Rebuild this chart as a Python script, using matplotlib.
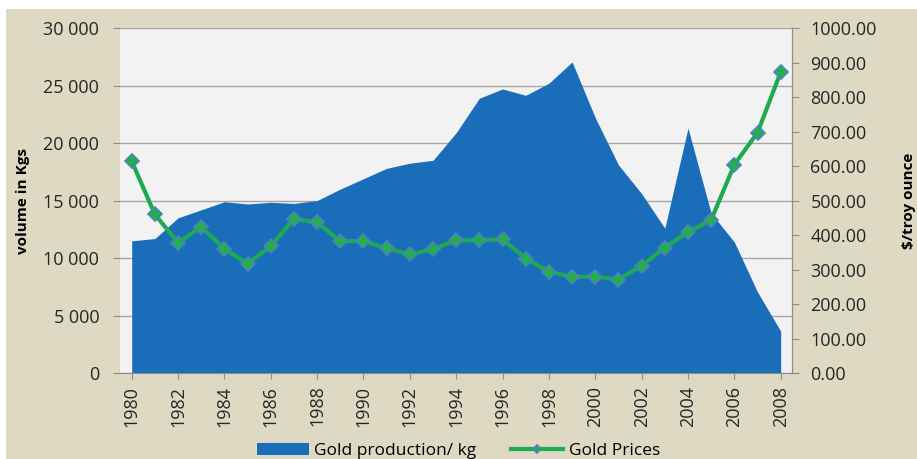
import matplotlib
matplotlib.use("Agg")
import matplotlib.pyplot as plt
from matplotlib.patches import Rectangle
from matplotlib.ticker import FuncFormatter, MultipleLocator
import numpy as np

plt.rcParams['font.family'] = ['Open Sans', 'DejaVu Sans']

years = list(range(1980, 2009))
# gold production, kg
production = [11500, 11700, 13500, 14200, 14900, 14700, 14850, 14750, 15000, 16000,
              16900, 17800, 18250, 18500, 20900, 23900, 24700, 24150, 25200, 27050,
              22200, 18100, 15600, 12600, 21300, 13900, 11400, 7050, 3650]
# gold price, $/troy ounce
price = [614, 460, 378, 424, 360, 317, 368, 447, 437, 382,
         383, 362, 344, 359, 385, 385, 388, 332, 294, 279,
         280, 271, 311, 364, 409, 444, 604, 697, 872]

beige = '#DDD9C3'
fig = plt.figure(figsize=(9.17, 4.59), dpi=100, facecolor='white')
fig.patches.append(Rectangle((6 / 917, 0), 1, 1 - 9 / 459, transform=fig.transFigure,
                             facecolor=beige, edgecolor='none', zorder=-10))

ax = fig.add_axes([0.131, 0.187, 0.733, 0.752])
ax.set_facecolor('#F2F2F2')
x = np.arange(len(years))
ax.fill_between(x, production, 0, color='#1A6DB9', lw=0, label='Gold production/ kg', zorder=2)
ax.set_xlim(-0.5, len(years) - 0.5)
ax.set_ylim(0, 30000)
ax.yaxis.set_major_locator(MultipleLocator(5000))
ax.yaxis.set_major_formatter(FuncFormatter(lambda v, p: f"{int(v):,}".replace(",", " ")))
ax.grid(axis='y', color='#A6A6A6', lw=1, zorder=1)
ax.set_axisbelow(True)
ax.set_xticks(x[::2])
ax.set_xticklabels([str(y) for y in years[::2]], rotation=90)
for s in ['top', 'left']:
    ax.spines[s].set_visible(False)
ax.spines['bottom'].set_color('#8C8C8C')
ax.spines['right'].set_color('#8C8C8C')
ax.tick_params(axis='y', length=5, color='#8C8C8C', labelsize=13, labelcolor='#262626', pad=10)
ax.tick_params(axis='x', length=4, color='#8C8C8C', labelsize=13, labelcolor='#262626', pad=5)
ax.set_ylabel('volume in Kgs', fontsize=11, fontweight='bold', labelpad=10)

ax2 = ax.twinx()
ax2.plot(x, price, color='#1EAA4E', lw=3, marker='D', markersize=7.5,
         markerfacecolor='#22B04B', markeredgecolor='#4F81BD', markeredgewidth=1.2,
         label='Gold Prices', zorder=3)
ax2.set_ylim(0, 1000)
ax2.yaxis.set_major_locator(MultipleLocator(100))
ax2.yaxis.set_major_formatter(FuncFormatter(lambda v, p: f"{v:.2f}"))
for s in ['top', 'left', 'bottom']:
    ax2.spines[s].set_visible(False)
ax2.spines['right'].set_color('#8C8C8C')
ax2.tick_params(axis='y', length=5, color='#8C8C8C', labelsize=13, labelcolor='#262626', pad=8)
ax2.set_ylabel('$/troy ounce', fontsize=11, fontweight='bold', labelpad=18)

h1, l1 = ax.get_legend_handles_labels()
h2, l2 = ax2.get_legend_handles_labels()
fig.legend(h1 + h2, l1 + l2, loc='lower center', bbox_to_anchor=(0.5, -0.035), ncol=2,
           frameon=False, fontsize=12.5, handlelength=3, columnspacing=2.0,
           handletextpad=0.3, markerscale=0.6)

fig.savefig('out.png', dpi=100, facecolor='white')
